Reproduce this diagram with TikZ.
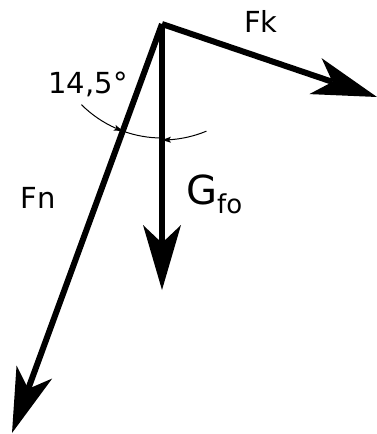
\documentclass[tikz,border=0pt]{standalone}
\usepackage{fontspec}
\setmainfont{DejaVu Sans}
\usetikzlibrary{arrows.meta,bending}
\tikzset{
  force/.style={line width=6pt,-{Stealth[length=65pt,width=38pt,inset=18pt,line width=0pt]}},
  anglemark/.style={line width=1pt,-{Stealth[length=9pt,width=6pt,inset=2pt,line width=0pt]}},
  lbl/.style={inner sep=0pt,anchor=base,font=\fontsize{29}{29}\selectfont},
}
\begin{document}
\begin{tikzpicture}[x=1pt,y=-1pt]
    \useasboundingbox (0,0) rectangle (377,434);
    % vertex and tips
    \coordinate (O) at (162,24);
    \coordinate (fk) at (377,97);
    \coordinate (fn) at (12,433);
    \coordinate (gfo) at (162,290);

    % forces
    \draw[force] (O) -- (fk);
    \draw[force] (O) -- (fn);
    \draw[force] (O) -- (gfo);

    % angle
    \draw[anglemark] (O) ++(135:114) arc[start angle=135,end angle=110.1,radius=114];
    \draw[line width=1pt] (O) ++(110.1:114) arc[start angle=110.1,end angle=90,radius=114];
    \draw[anglemark] (O) ++(67.5:116) arc[start angle=67.5,end angle=90,radius=116];

    % labels
    \node[lbl] (fklbl) at (261,32) {Fk};
    \node[lbl] (anglelbl) at (88,93) {14,5°};
    \node[lbl] (fnlbl) at (38,208) {Fn};
    \node[inner sep=0pt,anchor=base west,font=\fontsize{40}{40}\selectfont] (glbl) at (186,204)
        {G\raisebox{-9pt}{\fontsize{26}{26}\selectfont fo}};
\end{tikzpicture}
\end{document}
